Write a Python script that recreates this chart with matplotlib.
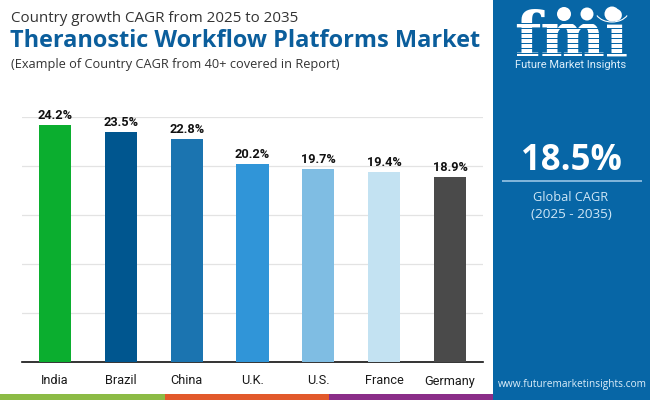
import matplotlib
matplotlib.use("Agg")
import matplotlib.pyplot as plt
from matplotlib.patches import Rectangle, Circle, Arc

countries = ["India", "Brazil", "China", "U.K.", "U.S.", "France", "Germany"]
cagr = [24.2, 23.5, 22.8, 20.2, 19.7, 19.4, 18.9]
colors = ["#0BAE2F", "#00568F", "#1B74B0", "#3095D8", "#7FBDE3", "#C3E2F2", "#4A4A4A"]
yticks = [0, 5, 10, 15, 20, 25]

W, H = 650, 400
plt.rcParams['font.family'] = ['Open Sans', 'DejaVu Sans']
fig = plt.figure(figsize=(6.5, 4.0), dpi=100, facecolor="white")

def fx(x): return x / W
def fy(y): return 1 - y / H

# background layer in pixel coordinates
bg = fig.add_axes([0, 0, 1, 1], zorder=0)
bg.set_xlim(0, W); bg.set_ylim(H, 0); bg.axis("off")
PANEL = "#0766A6"
bg.add_patch(Rectangle((493, 0), 157, 400, color=PANEL, lw=0))
bg.add_patch(Rectangle((0, 394), 165, 6, color="#8CBB45", lw=0))
bg.add_patch(Rectangle((165, 394), 164, 6, color="#E2592B", lw=0))
bg.add_patch(Rectangle((329, 394), 164, 6, color="#8A2D88", lw=0))

# bar chart
ax = fig.add_axes([fx(22), fy(362), (483 - 22) / W, (362 - 117) / H], zorder=1)
ax.patch.set_alpha(0)
ax.set_xlim(-0.5, 6.5)
ax.set_ylim(0, 25)
ax.set_yticks(yticks)
ax.tick_params(axis="y", length=0, labelleft=False)
ax.tick_params(axis="x", length=0, pad=9, labelsize=9.2, labelcolor="#1a1a1a")
ax.grid(axis="y", color="#E3E3E3", lw=0.9)
ax.set_axisbelow(True)
for s in ["top", "right", "left"]:
    ax.spines[s].set_visible(False)
ax.spines["bottom"].set_color("#111111")
ax.spines["bottom"].set_linewidth(1.2)
ax.set_xticks(range(len(countries)))
ax.set_xticklabels(countries, family="Roboto")
ax.bar(countries, cagr, width=0.49, color=colors, zorder=3)
for i, v in enumerate(cagr):
    ax.text(i, v + 0.3, f"{v}%", ha="center", va="bottom", fontsize=9.2,
            fontweight="bold", family="Roboto", color="#111111", zorder=4, clip_on=False)

# titles
fig.text(fx(11), fy(22), "Country growth CAGR from 2025 to 2035", fontsize=10.9, color="#333333", va="baseline")
fig.text(fx(10), fy(47), "Theranostic Workflow Platforms Market", fontsize=16.9, fontweight="bold",
         color="#0B5E9C", va="baseline")
fig.text(fx(11), fy(68), "(Example of Country CAGR from 40+ covered in Report)", fontsize=9.2,
         color="#333333", va="baseline")

# logo
bg.text(571, 55.5, "fmi", fontsize=44, fontweight="bold", family="DejaVu Serif", color="white",
        ha="center", va="baseline", zorder=2)
for yy in range(23, 56, 5):
    bg.add_patch(Rectangle((512, yy), 120, 1.0, color=PANEL, lw=0, zorder=3))
for cx, cy, r in [(564, 14, 7), (587, 14, 6.5), (612, 14, 7.5)]:
    bg.add_patch(Circle((cx, cy), r, color="white", lw=0, zorder=4))
bg.add_patch(Arc((612, 10), 34, 24, theta1=20, theta2=160, color="white", lw=0.8, zorder=4))
fig.text(fx(571), fy(68), "Future Market Insights", fontsize=8, color="#DCEEFA", ha="center",
         va="baseline", family="Roboto")

# KPI
fig.text(fx(571), fy(170), "18.5%", fontsize=25, fontweight="bold", color="white", ha="center", va="baseline")
bg.add_patch(Rectangle((502, 180), 140, 2, color="#7FB4DA", lw=0))
fig.text(fx(571), fy(201), "Global CAGR", fontsize=9.2, color="#CFE6F6", ha="center", va="baseline")
fig.text(fx(571), fy(218), "(2025 - 2035)", fontsize=9.7, color="#CFE6F6", ha="center", va="baseline")
fig.text(fx(572), fy(387), "www.futuremarketinsights.com", fontsize=7.3, color="#DCEEFA", ha="center",
         va="baseline")

fig.savefig("out.png", dpi=100)
